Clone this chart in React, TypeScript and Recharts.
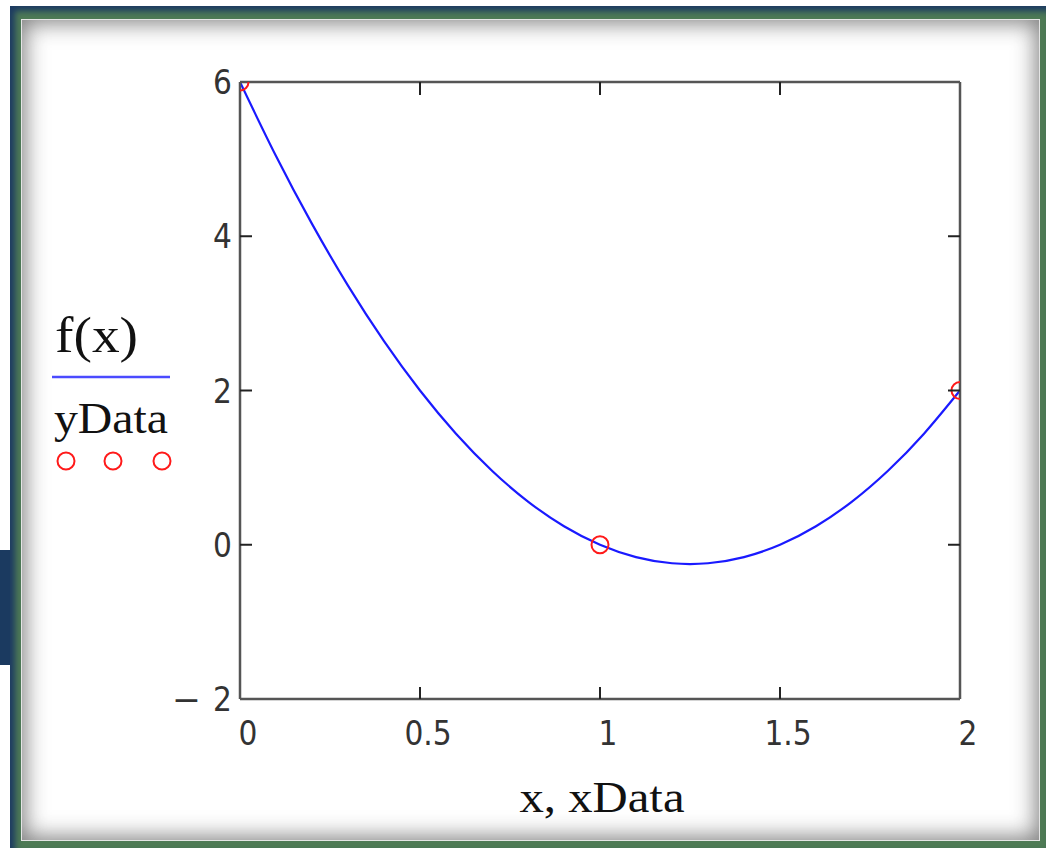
import React from "react";
import {
  ComposedChart,
  Line,
  Scatter,
  XAxis,
  YAxis,
  Legend,
  Label,
} from "recharts";

// f(x) curve
const curveX = [0, 0.1, 0.2, 0.3, 0.4, 0.5, 0.6, 0.7, 0.8, 0.9, 1, 1.1, 1.2, 1.3, 1.4, 1.5, 1.6, 1.7, 1.8, 1.9, 2];
const curveY = [6, 5.04, 4.16, 3.36, 2.64, 2, 1.44, 0.96, 0.56, 0.24, 0, -0.16, -0.24, -0.24, -0.16, 0, 0.24, 0.56, 0.96, 1.44, 2];

// data points
const xData = [0, 1, 2];
const yData = [6, 0, 2];

// ticks
const xTicks = [0, 0.5, 1, 1.5, 2];
const xTickLabels = ["0", "0.5", "1", "1.5", "2"];
const yTicks = [-2, 0, 2, 4, 6];
const yTickLabels = ["\u22122", "0", "2", "4", "6"];

const curveData = curveX.map((x, i) => ({ x, y: curveY[i] }));
const pointData = xData.map((x, i) => ({ x, y: yData[i] }));

const X_DOMAIN: [number, number] = [0, 2];
const Y_DOMAIN: [number, number] = [-2, 6];

const TICK_FONT = "'DejaVu Sans Condensed', 'DejaVu Sans', sans-serif";
const SERIF = "'Liberation Serif', 'Times New Roman', serif";
const FRAME = "#555";
const TICK = "#222";
const LABEL_COLOR = "#333";

const isInteriorX = (v: number) => v > X_DOMAIN[0] && v < X_DOMAIN[1];
const isInteriorY = (v: number) => v > Y_DOMAIN[0] && v < Y_DOMAIN[1];

const BottomTick = (props: any) => {
  const { x, y, payload } = props;
  const v = payload.value as number;
  const idx = xTicks.indexOf(v);
  return (
    <g>
      {isInteriorX(v) && (
        <line x1={x} y1={y} x2={x} y2={y - 12} stroke={TICK} strokeWidth={2} />
      )}
      <text
        x={x + 8}
        y={y + 46}
        textAnchor="middle"
        fontFamily={TICK_FONT}
        fontStretch="condensed"
        fontSize={33}
        fill={LABEL_COLOR}
      >
        {xTickLabels[idx]}
      </text>
    </g>
  );
};

const TopTick = (props: any) => {
  const { x, y, payload } = props;
  const v = payload.value as number;
  if (!isInteriorX(v)) return <g />;
  return <line x1={x} y1={y} x2={x} y2={y + 13} stroke={TICK} strokeWidth={2} />;
};

const LeftTick = (props: any) => {
  const { x, y, payload } = props;
  const v = payload.value as number;
  const idx = yTicks.indexOf(v);
  const label = yTickLabels[idx] || "";
  const negative = label.startsWith("\u2212");
  const body = negative ? label.slice(1) : label;
  return (
    <g>
      {isInteriorY(v) && (
        <line x1={x} y1={y} x2={x + 12} y2={y} stroke={TICK} strokeWidth={2} />
      )}
      {negative && (
        <text
          x={x - 68}
          y={y + 12}
          fontFamily={TICK_FONT}
          fontStretch="condensed"
          fontSize={33}
          fill={LABEL_COLOR}
          textLength={29}
          lengthAdjust="spacingAndGlyphs"
        >
          {"\u2212"}
        </text>
      )}
      <text
        x={x - 8}
        y={y + 12}
        textAnchor="end"
        fontFamily={TICK_FONT}
        fontStretch="condensed"
        fontSize={33}
        fill={LABEL_COLOR}
      >
        {body}
      </text>
    </g>
  );
};

const RightTick = (props: any) => {
  const { x, y, payload } = props;
  const v = payload.value as number;
  if (!isInteriorY(v)) return <g />;
  return <line x1={x} y1={y} x2={x - 12} y2={y} stroke={TICK} strokeWidth={2} />;
};

const Ring = (props: any) => {
  const { cx, cy } = props;
  if (cx == null || cy == null) return <g />;
  return <circle cx={cx} cy={cy} r={8.5} fill="none" stroke="#ff1a1a" strokeWidth={2} />;
};

const renderLegend = () => (
  <svg width={200} height={200} style={{ display: "block" }}>
    <text x={55} y={62} fontFamily={SERIF} fontSize={50} fill="#111" textLength={83} lengthAdjust="spacingAndGlyphs">
      f(x)
    </text>
    <line x1={52} y1={87} x2={170} y2={87} stroke="#4b4bff" strokeWidth={2.5} />
    <text x={54} y={143} fontFamily={SERIF} fontSize={44} fill="#111" textLength={114} lengthAdjust="spacingAndGlyphs">
      yData
    </text>
    {[66, 113, 162].map((cx) => (
      <circle key={cx} cx={cx} cy={171} r={8.5} fill="none" stroke="#ff1a1a" strokeWidth={2} />
    ))}
  </svg>
);

const renderXLabel = (props: any) => {
  const vb = props.viewBox || { x: 240, y: 699, width: 720, height: 60 };
  return (
    <text
      x={vb.x + vb.width / 2 + 2}
      y={vb.y + vb.height + 53}
      textAnchor="middle"
      fontFamily={SERIF}
      fontSize={44}
      fill="#111"
      textLength={165}
      lengthAdjust="spacingAndGlyphs"
    >
      x, xData
    </text>
  );
};

export default function App() {
  return (
    <div style={{ position: "relative", width: 1046, height: 848, background: "#fff", overflow: "hidden" }}>
      <style>{`body{margin:0;}`}</style>
      {/* navy block at left */}
      <div style={{ position: "absolute", left: 0, top: 550, width: 12, height: 115, background: "#1b3a60" }} />
      {/* outer frame */}
      <div
        style={{
          position: "absolute",
          left: 10,
          top: 6,
          width: 1036,
          height: 842,
          background: "#4e7a55",
          boxShadow: "inset 5px 5px 6px #1c3a62",
        }}
      >
        <div
          style={{
            position: "absolute",
            left: 11,
            top: 13,
            right: 6,
            bottom: 7,
            background: "#fff",
            boxShadow: "inset 0 0 0 1px #e4e4e4, inset 0 0 22px 4px rgba(40,40,40,0.6)",
          }}
        />
      </div>
      <div style={{ position: "absolute", left: 0, top: 0 }}>
        <ComposedChart
          width={1046}
          height={848}
          margin={{ top: 72, right: 76, bottom: 89, left: 180 }}
        >
          <XAxis
            xAxisId="b"
            dataKey="x"
            type="number"
            domain={X_DOMAIN}
            allowDataOverflow
            ticks={xTicks}
            interval={0}
            height={60}
            tickSize={0}
            tickMargin={0}
            tickLine={false}
            axisLine={{ stroke: FRAME, strokeWidth: 2.5 }}
            tick={<BottomTick />}
          >
            <Label content={renderXLabel} />
          </XAxis>
          <XAxis
            xAxisId="t"
            orientation="top"
            dataKey="x"
            type="number"
            domain={X_DOMAIN}
            allowDataOverflow
            ticks={xTicks}
            interval={0}
            height={10}
            tickSize={0}
            tickMargin={0}
            tickLine={false}
            axisLine={{ stroke: FRAME, strokeWidth: 2.5 }}
            tick={<TopTick />}
          />
          <YAxis
            yAxisId="l"
            type="number"
            domain={Y_DOMAIN}
            allowDataOverflow
            ticks={yTicks}
            interval={0}
            width={60}
            tickSize={0}
            tickMargin={0}
            tickLine={false}
            axisLine={{ stroke: FRAME, strokeWidth: 2.5 }}
            tick={<LeftTick />}
          />
          <YAxis
            yAxisId="r"
            orientation="right"
            type="number"
            domain={Y_DOMAIN}
            allowDataOverflow
            ticks={yTicks}
            interval={0}
            width={10}
            tickSize={0}
            tickMargin={0}
            tickLine={false}
            axisLine={{ stroke: FRAME, strokeWidth: 2.5 }}
            tick={<RightTick />}
          />
          <Legend
            layout="vertical"
            align="center"
            verticalAlign="middle"
            content={renderLegend}
            wrapperStyle={{ left: 0, top: 290, width: 200, height: 200, margin: 0, padding: 0 }}
          />
          <Line
            xAxisId="b"
            yAxisId="l"
            data={curveData}
            dataKey="y"
            type="natural"
            stroke="#1a1aff"
            strokeWidth={2.2}
            dot={false}
            activeDot={false}
            isAnimationActive={false}
          />
          <Scatter
            xAxisId="b"
            yAxisId="l"
            data={pointData}
            dataKey="y"
            shape={<Ring />}
            isAnimationActive={false}
          />
        </ComposedChart>
      </div>
    </div>
  );
}
